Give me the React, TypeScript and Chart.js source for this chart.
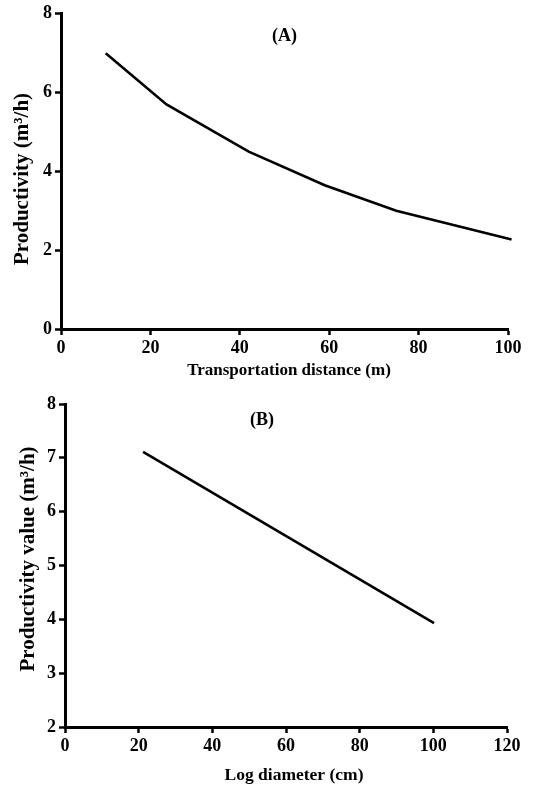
import React, { useEffect, useRef } from "react";
import { Chart, registerables } from "chart.js";
Chart.register(...registerables);

// Panel A data
const distanceA = [10, 23.6, 42, 59, 75, 100.8];
const productivityA = [7.0, 5.7, 4.5, 3.65, 3.0, 2.27];
const xTicksA = [0, 20, 40, 60, 80, 100];
const yTicksA = [0, 2, 4, 6, 8];

// Panel B data
const diameterB = [21.2, 100.2];
const productivityB = [7.11, 3.93];
const xTicksB = [0, 20, 40, 60, 80, 100, 120];
const yTicksB = [2, 3, 4, 5, 6, 7, 8];

const FAMILY = "'Liberation Serif', 'Times New Roman', serif";

type Cfg = {
  xs: number[];
  ys: number[];
  xTicks: number[];
  yTicks: number[];
  xTitle: string;
  yTitle: string;
  label: string;
  labelX: number;
  labelY: number;
  padTop: number;
  padRight: number;
  yWidth: number;
  xHeight: number;
  xTitleSize: number;
  xTitlePos: [number, number];
  yTitlePos: [number, number];
};

function textPlugin(c: Cfg) {
  return {
    id: "panelText",
    afterDraw(chart: any) {
      const { ctx, scales } = chart;
      ctx.save();
      ctx.fillStyle = "#000";
      ctx.textAlign = "center";
      ctx.textBaseline = "middle";
      // panel label
      ctx.font = `bold 18px ${FAMILY}`;
      ctx.fillText(c.label, scales.x.getPixelForValue(c.labelX), scales.y.getPixelForValue(c.labelY));
      // x title
      ctx.font = `bold ${c.xTitleSize}px ${FAMILY}`;
      ctx.fillText(c.xTitle, c.xTitlePos[0], c.xTitlePos[1]);
      // y title
      ctx.translate(c.yTitlePos[0], c.yTitlePos[1]);
      ctx.rotate(-Math.PI / 2);
      ctx.font = `bold 21px ${FAMILY}`;
      ctx.fillText(c.yTitle, 0, 0);
      ctx.restore();
    },
  };
}

function makeChart(canvas: HTMLCanvasElement, c: Cfg) {
  const axisCommon = {
    border: { display: true, color: "#000", width: 3 },
    grid: {
      display: true,
      drawOnChartArea: false,
      drawTicks: true,
      tickLength: 6,
      tickWidth: 2.5,
      color: "#000",
    },
  };
  return new Chart(canvas, {
    type: "line",
    data: {
      datasets: [
        {
          data: c.xs.map((x, i) => ({ x, y: c.ys[i] })),
          borderColor: "#000",
          borderWidth: 2.6,
          pointRadius: 0,
          tension: 0,
          fill: false,
          clip: false as any,
        },
      ],
    },
    options: {
      responsive: false,
      animation: false,
      layout: { padding: { top: c.padTop, right: c.padRight, left: 0, bottom: 0 } },
      plugins: { legend: { display: false }, tooltip: { enabled: false }, title: { display: false } },
      scales: {
        x: {
          type: "linear",
          min: c.xTicks[0],
          max: c.xTicks[c.xTicks.length - 1],
          afterBuildTicks: (s: any) => {
            s.ticks = c.xTicks.map((v) => ({ value: v }));
          },
          afterFit: (s: any) => {
            s.height = c.xHeight;
          },
          ticks: {
            color: "#000",
            font: { family: FAMILY, size: 18, weight: "bold" },
            padding: 3,
            maxRotation: 0,
            autoSkip: false,
          },
          title: { display: false },
          ...axisCommon,
        },
        y: {
          type: "linear",
          min: c.yTicks[0],
          max: c.yTicks[c.yTicks.length - 1],
          afterBuildTicks: (s: any) => {
            s.ticks = c.yTicks.map((v) => ({ value: v }));
          },
          afterFit: (s: any) => {
            s.width = c.yWidth;
          },
          ticks: {
            color: "#000",
            font: { family: FAMILY, size: 18, weight: "bold" },
            padding: 3,
            autoSkip: false,
          },
          title: { display: false },
          ...axisCommon,
        },
      },
    } as any,
    plugins: [textPlugin(c)],
  });
}

function Panel({ cfg, top, height }: { cfg: Cfg; top: number; height: number }) {
  const ref = useRef<HTMLCanvasElement>(null);
  useEffect(() => {
    if (!ref.current) return;
    const ch = makeChart(ref.current, cfg);
    return () => ch.destroy();
  }, []);
  return (
    <canvas
      ref={ref}
      width={534}
      height={height}
      style={{ position: "absolute", left: 0, top, width: 534, height }}
    />
  );
}

const cfgA: Cfg = {
  xs: distanceA,
  ys: productivityA,
  xTicks: xTicksA,
  yTicks: yTicksA,
  xTitle: "Transportation distance (m)",
  yTitle: "Productivity (m\u00B3/h)",
  label: "(A)",
  labelX: 50,
  labelY: 7.44,
  padTop: 13,
  padRight: 26,
  yWidth: 61,
  xHeight: 61,
  xTitleSize: 17,
  xTitlePos: [289, 371],
  yTitlePos: [23, 179],
};

const cfgB: Cfg = {
  xs: diameterB,
  ys: productivityB,
  xTicks: xTicksB,
  yTicks: yTicksB,
  xTitle: "Log diameter (cm)",
  yTitle: "Productivity value (m\u00B3/h)",
  label: "(B)",
  labelX: 53.5,
  labelY: 7.7,
  padTop: 14,
  padRight: 27,
  yWidth: 65,
  xHeight: 60,
  xTitleSize: 17.5,
  xTitlePos: [294, 385],
  yTitlePos: [29, 169],
};

export default function App() {
  return (
    <div style={{ position: "absolute", left: 0, top: 0, width: 534, height: 787, background: "#fff", overflow: "hidden" }}>
      <Panel cfg={cfgA} top={0} height={390} />
      <Panel cfg={cfgB} top={390} height={397} />
    </div>
  );
}
